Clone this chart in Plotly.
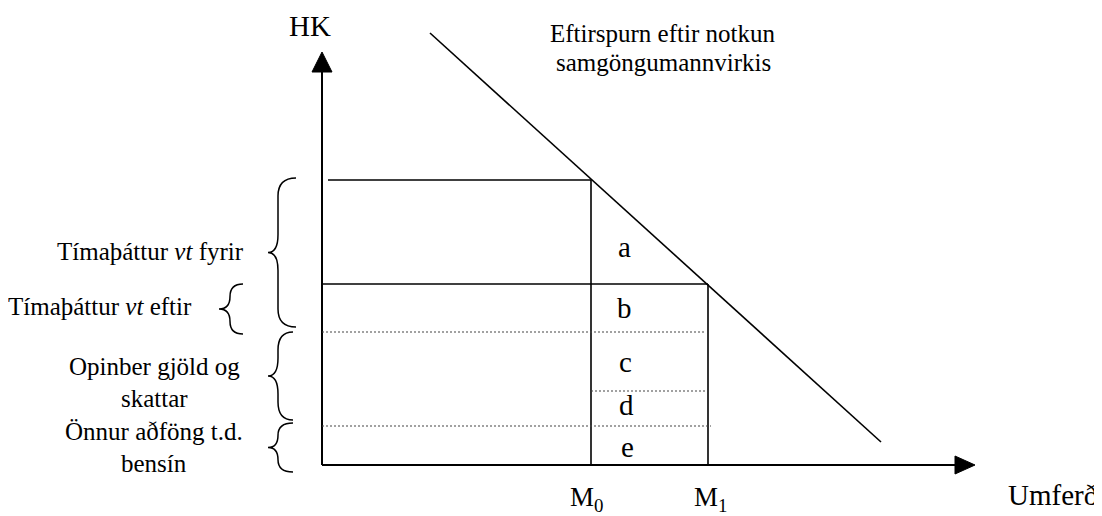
import plotly.graph_objects as go

# ---------------- data (diagram units: origin at the axes' corner) ----------------
QUANTITY_LABELS = ["M<sub>0</sub>", "M<sub>1</sub>"]
QUANTITIES = [269, 386]            # traffic before (M0) and after (M1)
PRICE_LEVELS = [285, 181]          # generalised cost (HK) before / after
TAX_LEVEL = 133                    # top of public charges and taxes
CD_SPLIT = 74                      # boundary between areas c and d
INPUT_LEVEL = 39                   # top of other inputs (fuel)
DEMAND_Q = [108, 559]              # demand curve end points (traffic)
DEMAND_P = [432, 23]               # demand curve end points (HK)
AXIS_X_END = 653
AXIS_Y_END = 413
AREA_LABELS = ["a", "b", "c", "d", "e"]
AXIS_TITLES = ["Umferð", "HK"]
DEMAND_TITLE = ["Eftirspurn eftir notkun", "samgöngumannvirkis"]
BRACE_TEXT = [
    ["Tímaþáttur <i>vt</i> fyrir"],
    ["Tímaþáttur <i>vt</i> eftir"],
    ["Opinber gjöld og", "skattar"],
    ["Önnur aðföng t.d.", "bensín"],
]

# ---------------- styling ----------------
FONT = "Liberation Serif, Times New Roman, serif"
BLACK = "#000000"
DOT = "#444444"

fig = go.Figure()


def line(xs, ys, width=1.6, color=BLACK, dash=None):
    fig.add_trace(go.Scatter(
        x=xs, y=ys, mode="lines", hoverinfo="skip", showlegend=False,
        line=dict(color=color, width=width, dash=dash)))


def triangle(xs, ys):
    fig.add_trace(go.Scatter(
        x=xs + [xs[0]], y=ys + [ys[0]], mode="lines", fill="toself",
        fillcolor=BLACK, line=dict(color=BLACK, width=1),
        hoverinfo="skip", showlegend=False))


m0, m1 = QUANTITIES
p0, p1 = PRICE_LEVELS

# axes with arrow heads
head_len, head_half = 20, 10
line([0, 0], [0, AXIS_Y_END - head_len], width=2)
triangle([-head_half, head_half, 0],
         [AXIS_Y_END - head_len, AXIS_Y_END - head_len, AXIS_Y_END])
line([0, AXIS_X_END - head_len], [0, 0], width=2)
triangle([AXIS_X_END - head_len, AXIS_X_END - head_len, AXIS_X_END],
         [head_half - 1, -head_half + 1, 0])

# demand curve
line(DEMAND_Q, DEMAND_P, width=1.6)

# price rectangles
line([6, m0], [p0, p0])
line([m0, m0], [0, p0])
line([0, m1], [p1, p1])
line([m1, m1], [0, p1])

# dotted cost levels
dot = "2px,2px"
line([0, m1 - 3], [TAX_LEVEL, TAX_LEVEL], width=1.2, color=DOT, dash=dot)
line([m0, m1 - 1], [CD_SPLIT, CD_SPLIT], width=1.2, color=DOT, dash=dot)
line([0, m1 + 3], [INPUT_LEVEL, INPUT_LEVEL], width=1.2, color=DOT, dash=dot)


# curly braces
def brace(ytop, ybot, xr, xs, xtip):
    ymid = (ytop + ybot) / 2
    r = min(18, (ytop - ybot) / 4)
    path = (f"M {xr},{ytop} Q {xs},{ytop} {xs},{ytop - r} "
            f"L {xs},{ymid + r} Q {xs},{ymid} {xtip},{ymid} "
            f"Q {xs},{ymid} {xs},{ymid - r} "
            f"L {xs},{ybot + r} Q {xs},{ybot} {xr},{ybot}")
    fig.add_shape(type="path", path=path, xref="x", yref="y",
                  line=dict(color=BLACK, width=1.5))


brace(p0 + 2, TAX_LEVEL + 5, -26, -44, -54)
brace(p1, TAX_LEVEL - 2, -79, -92, -103)
brace(TAX_LEVEL, INPUT_LEVEL + 6, -29, -44, -54)
brace(INPUT_LEVEL + 3, -7, -29, -44, -54)


def text(x, y, s, size=25, xanchor="center"):
    fig.add_annotation(x=x, y=y, text=s, showarrow=False, xref="x", yref="y",
                       xanchor=xanchor, yanchor="middle",
                       font=dict(family=FONT, size=size, color=BLACK))


# demand title
text(340, 431.4, DEMAND_TITLE[0])
text(341, 402.4, DEMAND_TITLE[1])

# axis titles
text(-12.5, 438.7, AXIS_TITLES[1], size=29)
text(730.5, -30.3, AXIS_TITLES[0], size=29)

# quantity labels
text(m0 - 4.5, -34, QUANTITY_LABELS[0], size=27)
text(m1 + 2.5, -34, QUANTITY_LABELS[1], size=27)

# area labels
area_pos = [(302, 217.7), (302, 156.7), (303, 102.7), (304, 59.7), (305, 17.7)]
for lab, (ax, ay) in zip(AREA_LABELS, area_pos):
    text(ax, ay, lab, size=29)

# brace texts
text(-76, 213.4, BRACE_TEXT[0][0], xanchor="right")
text(-128, 158.4, BRACE_TEXT[1][0], xanchor="right")
text(-168, 98.4, BRACE_TEXT[2][0])
text(-168, 66.4, BRACE_TEXT[2][1])
text(-168, 33.4, BRACE_TEXT[3][0])
text(-168, 1.4, BRACE_TEXT[3][1])

# the page puts the figure 8px from the window's top-left corner
fig.update_layout(
    width=1094, height=508, autosize=False,
    margin=dict(l=0, r=0, t=0, b=0, pad=0),
    paper_bgcolor="white", plot_bgcolor="white",
    xaxis=dict(range=[-314, 780], visible=False, fixedrange=True),
    yaxis=dict(range=[-51, 457], visible=False, fixedrange=True),
    showlegend=False,
)

fig.write_html("out.html", config={"displayModeBar": False})
